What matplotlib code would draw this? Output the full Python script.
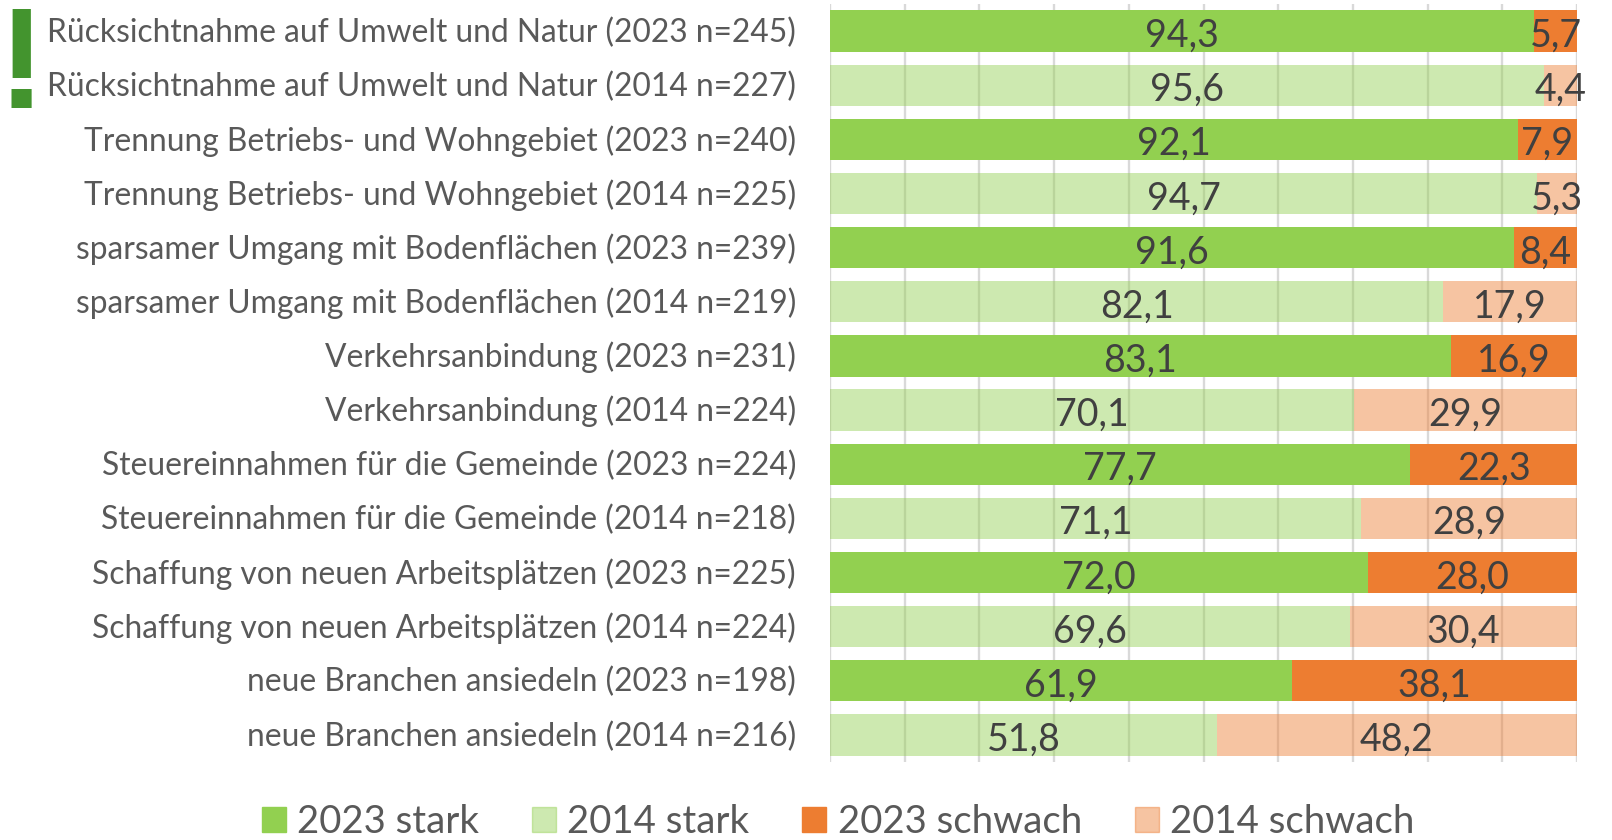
import matplotlib
matplotlib.use('Agg')
import matplotlib.pyplot as plt
from matplotlib.patches import Patch
from matplotlib.transforms import ScaledTranslation
import numpy as np

# Werte
themen = [
    'Rücksichtnahme auf Umwelt und Natur (2023 n=245)',
    'Rücksichtnahme auf Umwelt und Natur (2014 n=227)',
    'Trennung Betriebs- und Wohngebiet (2023 n=240)',
    'Trennung Betriebs- und Wohngebiet (2014 n=225)',
    'sparsamer Umgang mit Bodenflächen (2023 n=239)',
    'sparsamer Umgang mit Bodenflächen (2014 n=219)',
    'Verkehrsanbindung (2023 n=231)',
    'Verkehrsanbindung (2014 n=224)',
    'Steuereinnahmen für die Gemeinde (2023 n=224)',
    'Steuereinnahmen für die Gemeinde (2014 n=218)',
    'Schaffung von neuen Arbeitsplätzen (2023 n=225)',
    'Schaffung von neuen Arbeitsplätzen (2014 n=224)',
    'neue Branchen ansiedeln (2023 n=198)',
    'neue Branchen ansiedeln (2014 n=216)',
]
stark = [94.3, 95.6, 92.1, 94.7, 91.6, 82.1, 83.1, 70.1, 77.7, 71.1, 72.0, 69.6, 61.9, 51.8]
schwach = [5.7, 4.4, 7.9, 5.3, 8.4, 17.9, 16.9, 29.9, 22.3, 28.9, 28.0, 30.4, 38.1, 48.2]

GRUEN = '#92D050'
ORANGE = '#ED7D31'
HELL = 0.45
TEXT = '#595959'
WERT = '#404040'

plt.rcParams['font.family'] = ['Lato', 'DejaVu Sans']

fig = plt.figure(figsize=(16.12, 8.4), dpi=100)
ax = fig.add_axes([830 / 1612, 1 - 762 / 840, 747 / 1612, 758 / 840])

y = np.arange(len(themen))
for i in y:
    alpha = 1 if i % 2 == 0 else HELL
    ax.barh(i, stark[i], height=0.765, color=GRUEN, alpha=alpha, zorder=2)
    ax.barh(i, schwach[i], left=stark[i], height=0.765, color=ORANGE, alpha=alpha, zorder=2)
    for start, wert in ((0, stark[i]), (stark[i], schwach[i])):
        ax.annotate(f'{wert:.1f}'.replace('.', ','), (start + wert / 2, i),
                    xytext=(0, -3.5), textcoords='offset points', ha='center', va='center',
                    fontsize=27, color=WERT, zorder=3, annotation_clip=False)

ax.set_xlim(0, 100)
ax.set_ylim(len(themen) - 0.5, -0.5)
ax.set_xticks(np.arange(0, 101, 10))
ax.set_xticklabels([])
ax.set_yticks(y)
ax.set_yticklabels(themen, fontsize=22.85, color=TEXT)
ax.tick_params(axis='both', length=0)
ax.tick_params(axis='y', pad=24.5)
# Beschriftung etwas nach oben
for t in ax.get_yticklabels():
    t.set_transform(t.get_transform() + ScaledTranslation(0, 1 / 72, fig.dpi_scale_trans))
ax.grid(axis='x', color='#D9D9D9', linewidth=1.7, zorder=1)
ax.set_axisbelow(True)
for seite in ['top', 'right', 'bottom', 'left']:
    ax.spines[seite].set_visible(False)

griffe = [
    Patch(color=GRUEN, label='2023 stark'),
    Patch(color=GRUEN, alpha=HELL, label='2014 stark'),
    Patch(color=ORANGE, label='2023 schwach'),
    Patch(color=ORANGE, alpha=HELL, label='2014 schwach'),
]
fig.legend(handles=griffe, ncols=4, loc='lower left', bbox_to_anchor=(262 / 1612, 0.0),
           frameon=False, fontsize=27.6, labelcolor=TEXT, handlelength=0.62, handleheight=0.62,
           handletextpad=0.3, columnspacing=1.38, borderaxespad=0, borderpad=0)

# Ausrufezeichen links oben
fig.text(21 / 1612, 1 - 108 / 840, '!', family='Liberation Sans', fontweight='bold', fontsize=103,
         color='#43942E', ha='center', va='baseline')

plt.savefig('out.png', dpi=100)
